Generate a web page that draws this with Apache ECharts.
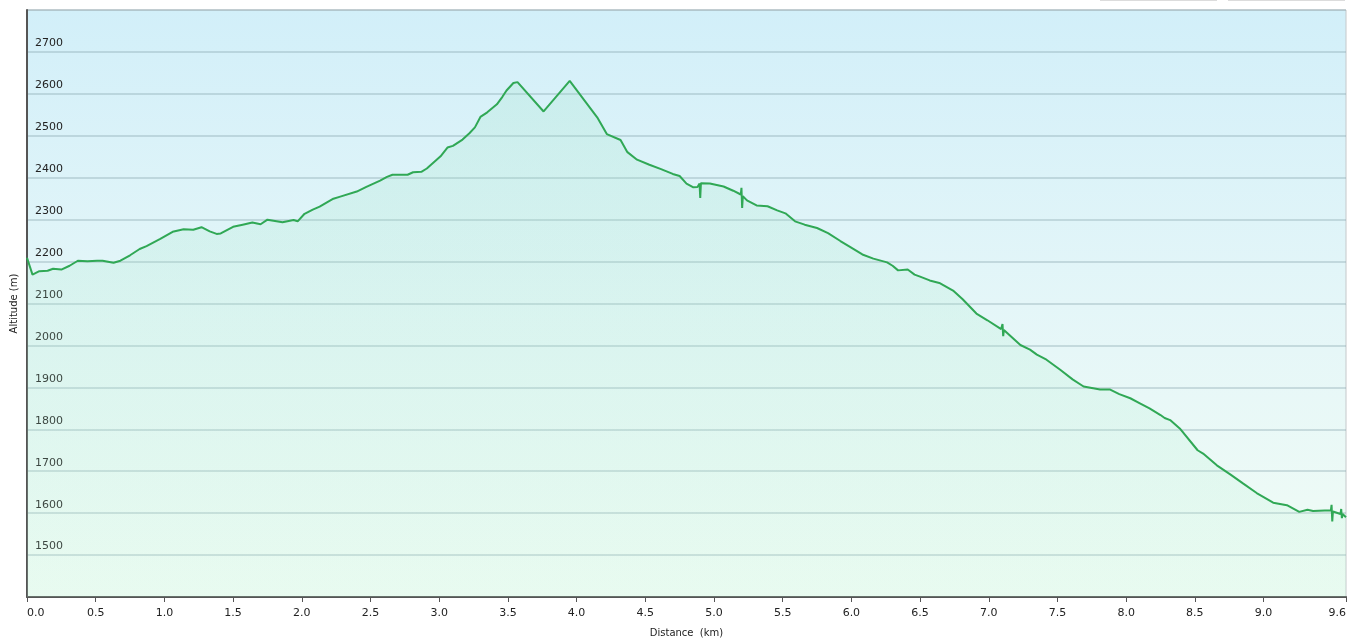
<!DOCTYPE html>
<html>
<head>
<meta charset="utf-8">
<script src="https://cdn.jsdelivr.net/npm/echarts@6/dist/echarts.min.js"></script>
<style>
html,body{margin:0;padding:0;background:#fff;}
#chart{width:1353px;height:643px;}
</style>
</head>
<body>
<div id="chart"></div>
<script>
// Distance (km)
const distances = [0.00,0.04,0.09,0.15,0.19,0.25,0.31,0.37,0.44,0.51,0.55,0.63,0.68,0.75,0.82,0.87,0.97,1.06,1.14,1.21,1.27,1.33,1.38,1.41,1.50,1.57,1.64,1.70,1.75,1.86,1.94,1.97,2.02,2.08,2.13,2.23,2.28,2.40,2.47,2.57,2.62,2.66,2.77,2.81,2.87,2.91,3.01,3.06,3.10,3.17,3.22,3.26,3.30,3.35,3.42,3.46,3.49,3.50,3.54,3.57,3.76,3.95,4.15,4.22,4.32,4.37,4.44,4.53,4.61,4.70,4.75,4.80,4.85,4.88,4.895,4.90,4.905,4.97,5.07,5.14,5.195,5.20,5.205,5.21,5.24,5.31,5.39,5.46,5.52,5.59,5.66,5.75,5.83,5.92,5.99,6.08,6.16,6.26,6.30,6.34,6.41,6.46,6.50,6.57,6.64,6.74,6.81,6.91,6.99,7.09,7.10,7.105,7.11,7.23,7.30,7.35,7.42,7.52,7.61,7.69,7.81,7.88,7.95,8.03,8.10,8.17,8.25,8.28,8.32,8.39,8.52,8.56,8.66,8.76,8.85,8.95,9.07,9.17,9.26,9.32,9.36,9.49,9.495,9.50,9.505,9.56,9.565,9.57,9.575,9.60];
// Altitude (m)
const altitudes = [2209,2169,2177,2178,2183,2181,2190,2202,2201,2202,2202,2197,2202,2215,2230,2237,2254,2271,2277,2276,2282,2272,2266,2267,2283,2288,2293,2289,2300,2294,2299,2296,2314,2324,2331,2350,2355,2367,2378,2393,2402,2407,2407,2413,2414,2422,2451,2472,2476,2491,2506,2520,2545,2556,2575,2593,2608,2604,2626,2628,2558,2631,2544,2504,2490,2461,2443,2431,2421,2409,2404,2386,2377,2378,2386,2352,2387,2386,2379,2369,2360,2376,2328,2356,2346,2334,2332,2322,2315,2296,2288,2280,2268,2249,2235,2217,2207,2198,2190,2179,2181,2169,2164,2155,2149,2131,2110,2076,2060,2039,2051,2022,2037,2001,1990,1978,1966,1942,1919,1902,1895,1895,1884,1874,1862,1850,1834,1827,1822,1802,1750,1742,1714,1692,1671,1648,1625,1619,1603,1608,1605,1607,1620,1580,1604,1598,1610,1588,1598,1590];
// Tick labels
const xTickValues = [0,0.5,1,1.5,2,2.5,3,3.5,4,4.5,5,5.5,6,6.5,7,7.5,8,8.5,9,9.6];
const yTickLabels = [1500,1600,1700,1800,1900,2000,2100,2200,2300,2400,2500,2600,2700];

const points = distances.map((d, i) => [d, altitudes[i]]);

const chart = echarts.init(document.getElementById('chart'), null, {renderer: 'canvas'});
const font = 'DejaVu Sans, Verdana, sans-serif';

chart.setOption({
  animation: false,
  backgroundColor: '#ffffff',
  grid: {
    left: 27, right: 7, top: 10, bottom: 40,
    show: true,
    borderColor: '#c4c8ca',
    borderWidth: 1,
    backgroundColor: new echarts.graphic.LinearGradient(0, 0, 0, 1, [
      {offset: 0, color: '#d2eff9'},
      {offset: 0.5, color: '#e4f6f8'},
      {offset: 1, color: '#f1fcf5'}
    ])
  },
  graphic: [
    {type: 'line', shape: {x1: 1100, y1: 0.5, x2: 1217, y2: 0.5}, style: {stroke: '#dcdcdc', lineWidth: 1}, silent: true},
    {type: 'line', shape: {x1: 1228, y1: 0.5, x2: 1345, y2: 0.5}, style: {stroke: '#dcdcdc', lineWidth: 1}, silent: true}
  ],
  xAxis: {
    type: 'value',
    min: 0, max: 9.6,
    interval: 0.5,
    name: 'Distance  (km)',
    nameLocation: 'middle',
    nameGap: 31,
    nameTextStyle: {fontFamily: font, fontSize: 10, color: '#222'},
    axisLine: {show: true, onZero: false, lineStyle: {color: '#555', width: 2}},
    axisTick: {show: true, length: 5, lineStyle: {color: '#555', width: 1}, customValues: xTickValues},
    axisLabel: {
      fontFamily: font, fontSize: 11, color: '#222', margin: 11,
      customValues: xTickValues,
      formatter: v => v.toFixed(1),
      alignMinLabel: 'left', alignMaxLabel: 'right'
    },
    splitLine: {show: false}
  },
  yAxis: {
    type: 'value',
    min: 1400, max: 2800,
    interval: 100,
    name: 'Altitude (m)',
    nameLocation: 'middle',
    nameGap: 3,
    nameTextStyle: {fontFamily: font, fontSize: 10, color: '#222'},
    axisLine: {show: true, lineStyle: {color: '#555', width: 2}},
    axisTick: {show: false},
    axisLabel: {
      inside: true,
      margin: 8,
      verticalAlign: 'bottom',
      padding: [0, 0, 3, 0],
      fontFamily: font, fontSize: 11, color: '#222',
      formatter: v => yTickLabels.indexOf(v) >= 0 ? String(v) : ''
    },
    splitLine: {show: true, lineStyle: {color: 'rgba(130,160,170,0.45)', width: 1.5}}
  },
  series: [{
    type: 'line',
    data: points,
    showSymbol: false,
    symbol: 'none',
    smooth: false,
    z: 3,
    lineStyle: {color: '#30a855', width: 2},
    areaStyle: {
      origin: 'start',
      color: new echarts.graphic.LinearGradient(0, 0, 0, 1, [
        {offset: 0, color: 'rgba(150,225,190,0.28)'},
        {offset: 1, color: 'rgba(190,245,215,0.25)'}
      ])
    }
  }]
});
</script>
</body>
</html>
